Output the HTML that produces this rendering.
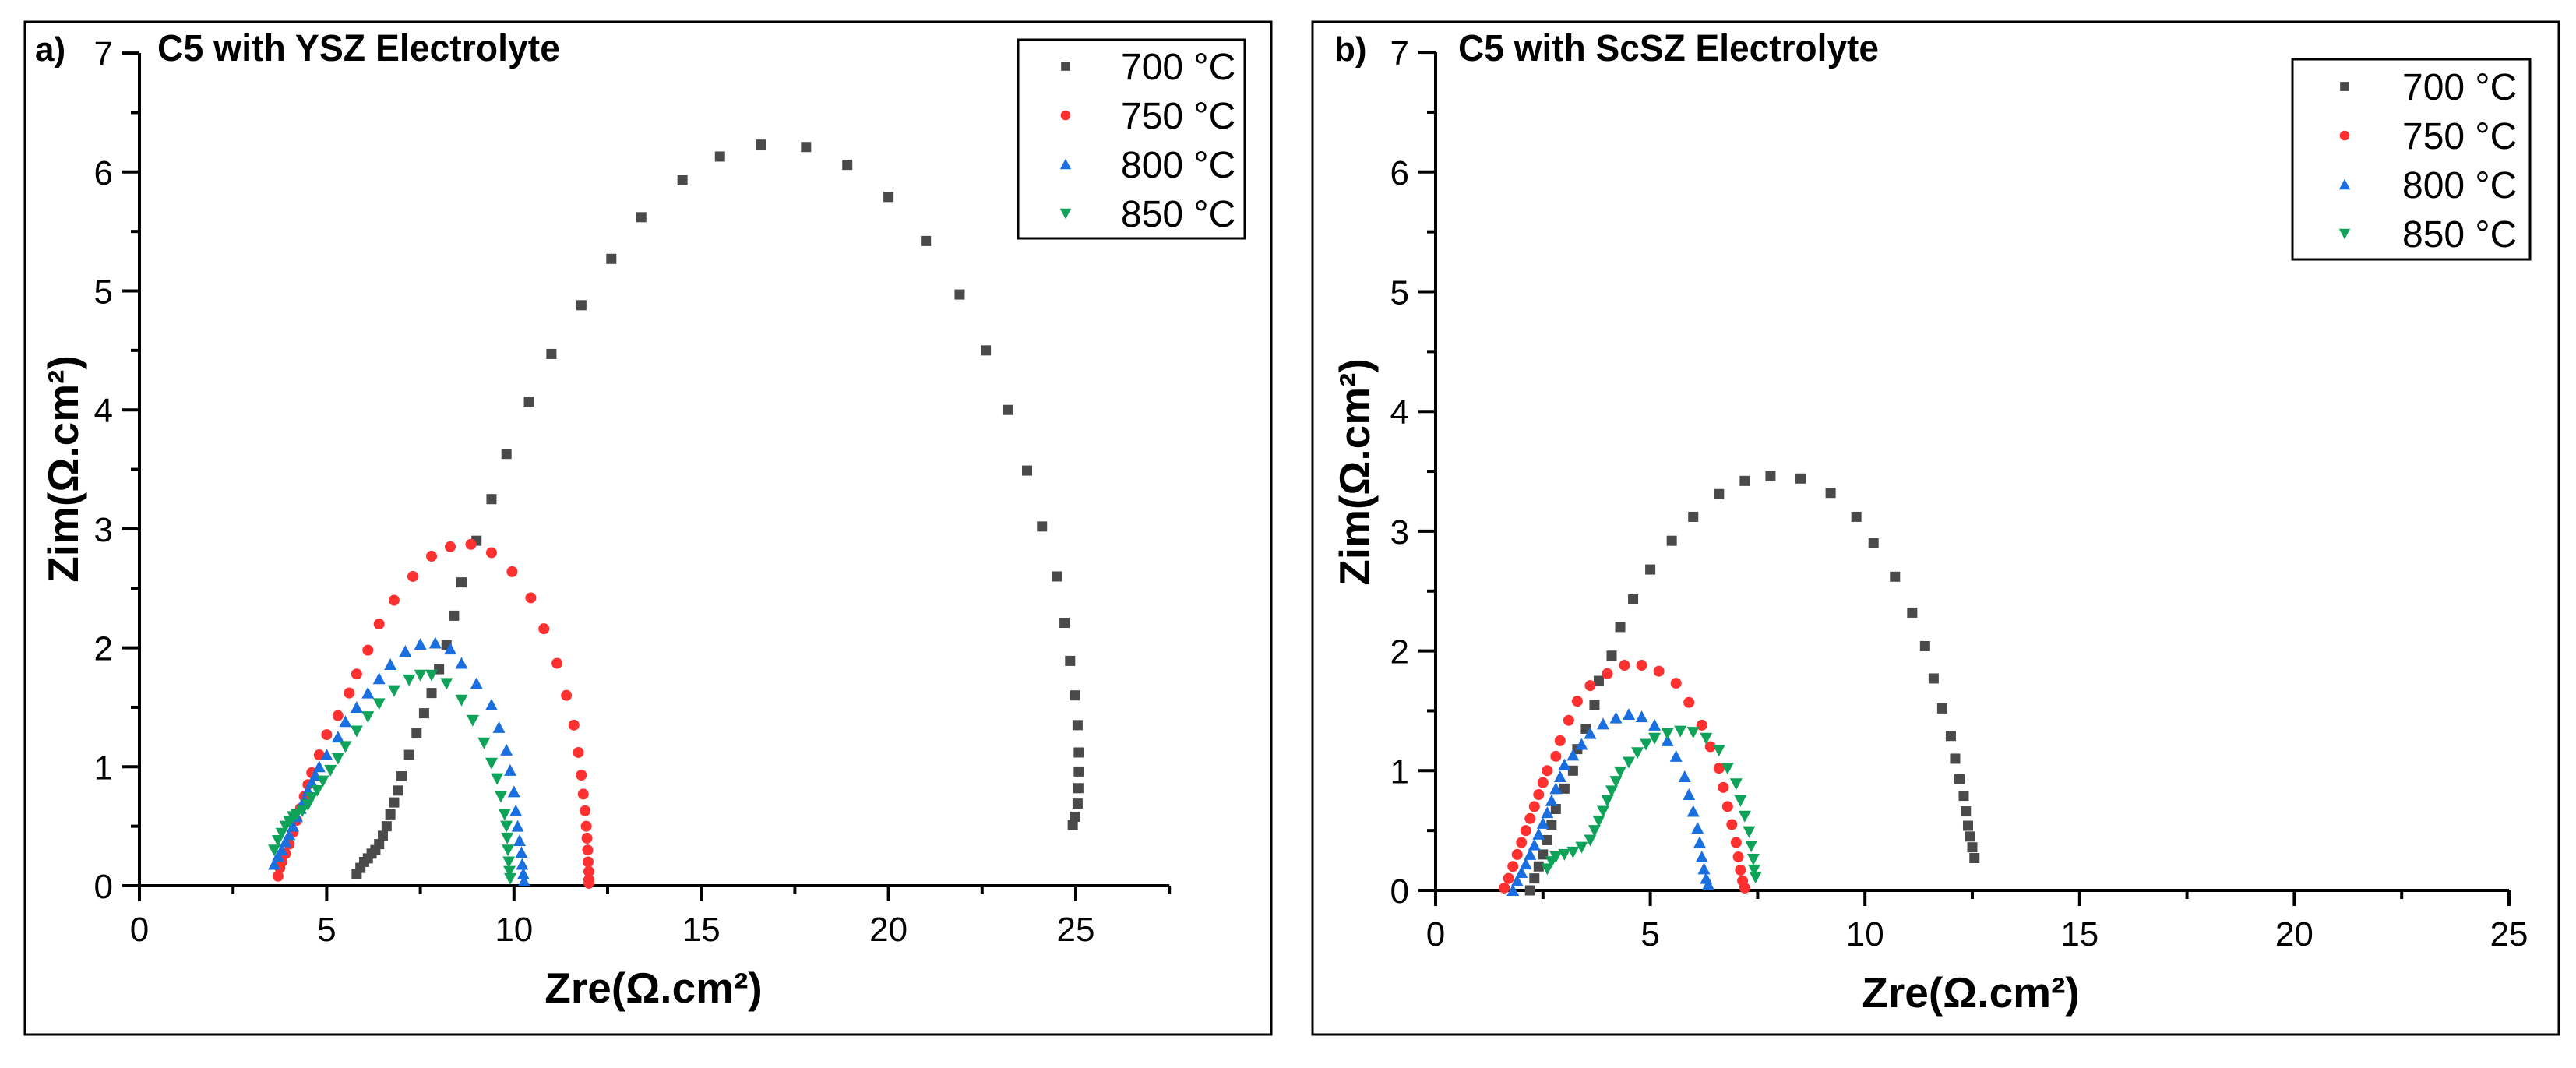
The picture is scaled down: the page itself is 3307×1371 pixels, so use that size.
<!DOCTYPE html>
<html><head><meta charset="utf-8">
<style>
html,body{margin:0;padding:0;background:#fff;}
svg{display:block;font-family:"Liberation Sans",Arial,sans-serif;}
</style></head>
<body>
<svg id="fig" width="3307" height="1371" viewBox="0 0 3307 1371" xmlns="http://www.w3.org/2000/svg">
  <rect x="0" y="0" width="3307" height="1371" fill="#fff"/>
  <rect x="32" y="28" width="1600" height="1300" fill="none" stroke="#000" stroke-width="3"/>
  <rect x="1685" y="28" width="1600" height="1300" fill="none" stroke="#000" stroke-width="3"/>
  <g id="panelA"></g>
  <g id="panelB"></g>
</svg>
<script>
// ---------- data ----------
const seriesNames = ["700 °C","750 °C","800 °C","850 °C"];
const xTicks = [0,5,10,15,20,25];
const yTicks = [0,1,2,3,4,5,6,7];

const a700x=[5.8,5.9,6.0,6.1,6.2,6.3,6.4,6.5,6.6,6.7,6.8,6.9,7.0,7.2,7.4,7.6,7.8,8.0,8.2,8.4,8.6,9.0,9.4,9.8,10.4,11.0,11.8,12.6,13.4,14.5,15.5,16.6,17.8,18.9,20.0,21.0,21.9,22.6,23.2,23.7,24.1,24.5,24.7,24.85,24.97,25.05,25.08,25.08,25.07,25.05,24.98,24.92];
const a700y=[0.1,0.15,0.2,0.23,0.27,0.3,0.35,0.42,0.5,0.6,0.7,0.8,0.92,1.1,1.28,1.45,1.62,1.82,2.02,2.27,2.55,2.9,3.25,3.63,4.07,4.47,4.88,5.27,5.62,5.93,6.13,6.23,6.21,6.06,5.79,5.42,4.97,4.5,4.0,3.49,3.02,2.6,2.21,1.89,1.6,1.35,1.12,0.96,0.82,0.69,0.58,0.51];
const a750x=[3.7,3.75,3.8,3.9,4.0,4.1,4.2,4.3,4.4,4.5,4.6,4.8,5.0,5.3,5.6,5.8,6.1,6.4,6.8,7.3,7.8,8.3,8.85,9.4,9.95,10.45,10.8,11.15,11.4,11.6,11.72,11.8,11.85,11.9,11.93,11.95,11.97,11.98,12.0,12.0,12.0];
const a750y=[0.08,0.15,0.2,0.27,0.35,0.45,0.55,0.65,0.75,0.85,0.95,1.1,1.27,1.43,1.62,1.78,1.98,2.2,2.4,2.6,2.77,2.85,2.87,2.8,2.64,2.42,2.16,1.87,1.6,1.35,1.12,0.93,0.77,0.63,0.5,0.4,0.3,0.2,0.12,0.05,0.02];
const a800x=[3.6,3.7,3.8,3.9,4.0,4.1,4.2,4.3,4.4,4.5,4.6,4.7,4.8,5.0,5.3,5.5,5.8,6.1,6.4,6.7,7.1,7.5,7.9,8.3,8.6,9.0,9.4,9.6,9.8,9.9,10.0,10.05,10.1,10.15,10.2,10.22,10.25,10.27];
const a800y=[0.18,0.25,0.3,0.37,0.43,0.5,0.58,0.65,0.72,0.8,0.87,0.93,1.0,1.1,1.25,1.38,1.5,1.62,1.74,1.86,1.97,2.03,2.04,1.99,1.87,1.7,1.52,1.33,1.14,0.97,0.79,0.63,0.5,0.38,0.28,0.18,0.1,0.04];
const a850x=[3.6,3.7,3.8,3.9,4.0,4.1,4.2,4.35,4.5,4.6,4.75,4.9,5.1,5.3,5.5,5.8,6.1,6.4,6.8,7.2,7.5,7.8,8.2,8.6,8.9,9.2,9.4,9.55,9.65,9.75,9.8,9.82,9.84,9.86,9.88,9.9];
const a850y=[0.3,0.38,0.44,0.5,0.54,0.58,0.6,0.63,0.68,0.74,0.8,0.88,0.97,1.07,1.17,1.3,1.42,1.53,1.64,1.73,1.77,1.77,1.7,1.56,1.39,1.2,1.03,0.9,0.75,0.6,0.5,0.4,0.3,0.2,0.12,0.06];

const b700x=[2.2,2.3,2.4,2.5,2.6,2.7,2.8,3.0,3.2,3.3,3.5,3.7,3.8,4.1,4.3,4.6,5.0,5.5,6.0,6.6,7.2,7.8,8.5,9.2,9.8,10.2,10.7,11.1,11.4,11.6,11.8,12.0,12.1,12.2,12.3,12.35,12.4,12.45,12.5,12.55];
const b700y=[0.0,0.1,0.2,0.3,0.42,0.55,0.68,0.85,1.0,1.18,1.35,1.55,1.75,1.96,2.2,2.43,2.68,2.92,3.12,3.31,3.42,3.46,3.44,3.32,3.12,2.9,2.62,2.32,2.04,1.77,1.52,1.29,1.1,0.93,0.79,0.66,0.54,0.45,0.36,0.27];
const b750x=[1.6,1.7,1.8,1.9,2.0,2.1,2.2,2.3,2.4,2.5,2.6,2.8,2.9,3.1,3.3,3.6,4.0,4.4,4.8,5.2,5.6,5.9,6.2,6.4,6.6,6.7,6.8,6.9,7.0,7.05,7.1,7.15,7.2];
const b750y=[0.02,0.1,0.2,0.3,0.4,0.5,0.6,0.7,0.8,0.9,1.0,1.12,1.25,1.42,1.58,1.71,1.81,1.88,1.88,1.83,1.73,1.57,1.38,1.2,1.02,0.86,0.7,0.55,0.4,0.28,0.17,0.08,0.02];
const b800x=[1.8,1.9,2.0,2.1,2.2,2.3,2.4,2.5,2.6,2.7,2.8,2.9,3.0,3.2,3.4,3.6,3.9,4.2,4.5,4.8,5.1,5.4,5.6,5.8,5.9,6.0,6.1,6.15,6.2,6.25,6.3,6.35];
const b800y=[0.0,0.08,0.15,0.22,0.3,0.38,0.47,0.56,0.65,0.75,0.85,0.95,1.05,1.13,1.22,1.31,1.39,1.44,1.47,1.45,1.38,1.25,1.12,0.95,0.8,0.66,0.52,0.4,0.28,0.18,0.1,0.05];
const b850x=[2.6,2.7,2.8,3.0,3.2,3.4,3.6,3.7,3.8,3.9,4.0,4.1,4.2,4.3,4.5,4.7,4.9,5.1,5.4,5.7,6.0,6.3,6.6,6.8,7.0,7.1,7.2,7.3,7.35,7.4,7.42,7.45];
const b850y=[0.18,0.24,0.28,0.3,0.32,0.36,0.42,0.5,0.58,0.66,0.75,0.83,0.91,0.99,1.07,1.15,1.22,1.27,1.31,1.33,1.32,1.27,1.17,1.02,0.89,0.75,0.62,0.49,0.37,0.26,0.17,0.11];

const colors=["#4a4a4a","#ff3030","#1a6fe0","#0fa35a"];
const shapes=["square","circle","tri-up","tri-down"];
const NS="http://www.w3.org/2000/svg";

function mk(tag,attrs,parent){const e=document.createElementNS(NS,tag);for(const k in attrs)e.setAttribute(k,attrs[k]);parent.appendChild(e);return e;}

function marker(g,shape,cx,cy,color,scale){
  const s=scale||1;let e;
  if(shape==="square"){e=mk("rect",{x:cx-6.5*s,y:cy-6.5*s,width:13*s,height:13*s,fill:color},g);}
  else if(shape==="circle"){e=mk("circle",{cx:cx,cy:cy,r:7*s,fill:color},g);}
  else if(shape==="tri-up"){e=mk("polygon",{points:`${cx},${cy-8*s} ${cx-8*s},${cy+7*s} ${cx+8*s},${cy+7*s}`,fill:color},g);}
  else {e=mk("polygon",{points:`${cx},${cy+8*s} ${cx-8*s},${cy-7*s} ${cx+8*s},${cy-7*s}`,fill:color},g);}
  return e;
}

function panel(g,cfg){
  const X=v=>cfg.x0+(v)*cfg.sx;
  const Y=v=>cfg.y0-(v)*cfg.sy;
  // axes
  const ax=mk("line",{x1:X(0)-14,y1:Y(0),x2:X(cfg.xmax),y2:Y(0),stroke:"#000","stroke-width":4},g);
  
  
  const ay=mk("line",{x1:X(0),y1:Y(0)+18,x2:X(0),y2:Y(7),stroke:"#000","stroke-width":4},g);
  
  
  // x ticks
  for(let v=0;v<=cfg.xmax+0.001;v+=2.5){
    const major=Math.abs(v%5)<0.01;
    mk("line",{x1:X(v),y1:Y(0),x2:X(v),y2:Y(0)+(major?20:11),stroke:"#000","stroke-width":4},g);
  }
  xTicks.forEach(t=>{
    const tx=mk("text",{x:X(t),y:Y(0)+71,"font-size":44,"text-anchor":"middle",fill:"#000"},g);
    tx.textContent=t;
    
    
  });
  for(let v=0;v<=7.001;v+=0.5){
    const major=Math.abs(v%1)<0.01;
    mk("line",{x1:X(0),y1:Y(v),x2:X(0)-(major?22:11),y2:Y(v),stroke:"#000","stroke-width":4},g);
  }
  yTicks.forEach(t=>{
    const ty=mk("text",{x:X(0)-34,y:Y(t)+16,"font-size":44,"text-anchor":"end",fill:"#000"},g);
    ty.textContent=t;
    
    
  });
  // axis titles
  const xt=mk("text",{x:cfg.xtX,y:cfg.xtY,"font-size":55,"font-weight":"bold","text-anchor":"middle",fill:"#000"},g);
  xt.textContent="Zre(Ω.cm²)";
  
  
  const yt=mk("text",{x:0,y:0,"font-size":55,"font-weight":"bold","text-anchor":"middle",fill:"#000",transform:`translate(${cfg.ytX},${cfg.ytY}) rotate(-90)`},g);
  yt.textContent="Zim(Ω.cm²)";
  
  
  // panel label & title
  const pl=mk("text",{x:cfg.lblX,y:78,"font-size":44,"font-weight":"bold",fill:"#000"},g);
  pl.textContent=cfg.lbl;
  
  
  const pt=mk("text",{x:cfg.titX,y:78,"font-size":48,"font-weight":"bold",fill:"#000",textLength:cfg.titW,lengthAdjust:"spacingAndGlyphs"},g);
  pt.textContent=cfg.title;
  
  
  // series
  cfg.series.forEach((s,i)=>{
    const sg=mk("g",{},g);
    
    
    s[0].forEach((xv,j)=>{
      const m=marker(sg,shapes[i],X(xv),Y(s[1][j]),colors[i]);
      
      
    });
  });
  // legend
  const lg=mk("g",{},g);
  
  
  mk("rect",{x:cfg.lgX,y:cfg.lgY,width:cfg.lgW,height:cfg.lgH,fill:"#fff",stroke:"#000","stroke-width":3},lg);
  seriesNames.forEach((n,i)=>{
    const ry=cfg.lgRow0+i*cfg.lgRowH;
    const le=mk("g",{},lg);
    
    
    marker(le,shapes[i],cfg.lgMX,ry,colors[i],0.9);
    const t=mk("text",{x:cfg.lgTX,y:ry+17,"font-size":48,fill:"#000"},le);
    t.textContent=n;
  });
}

panel(document.getElementById("panelA"),{
  x0:179,y0:1137,sx:48.08,sy:152.7,xmax:27.5,
  xtX:839,xtY:1287,ytX:100,ytY:602,
  lbl:"a)",lblX:45,title:"C5 with YSZ Electrolyte",titX:202,titW:517,
  lgX:1307,lgY:51,lgW:291,lgH:255,lgRow0:85,lgRowH:63,lgMX:1368,lgTX:1439,
  series:[[a700x,a700y],[a750x,a750y],[a800x,a800y],[a850x,a850y]]
});
panel(document.getElementById("panelB"),{
  x0:1843,y0:1143,sx:55.12,sy:153.7,xmax:25,
  xtX:2530,xtY:1293,ytX:1758,ytY:606,
  lbl:"b)",lblX:1713,title:"C5 with ScSZ Electrolyte",titX:1872,titW:540,
  lgX:2943,lgY:76,lgW:305,lgH:257,lgRow0:111,lgRowH:63,lgMX:3010,lgTX:3084,
  series:[[b700x,b700y],[b750x,b750y],[b800x,b800y],[b850x,b850y]]
});
</script>
</body></html>
